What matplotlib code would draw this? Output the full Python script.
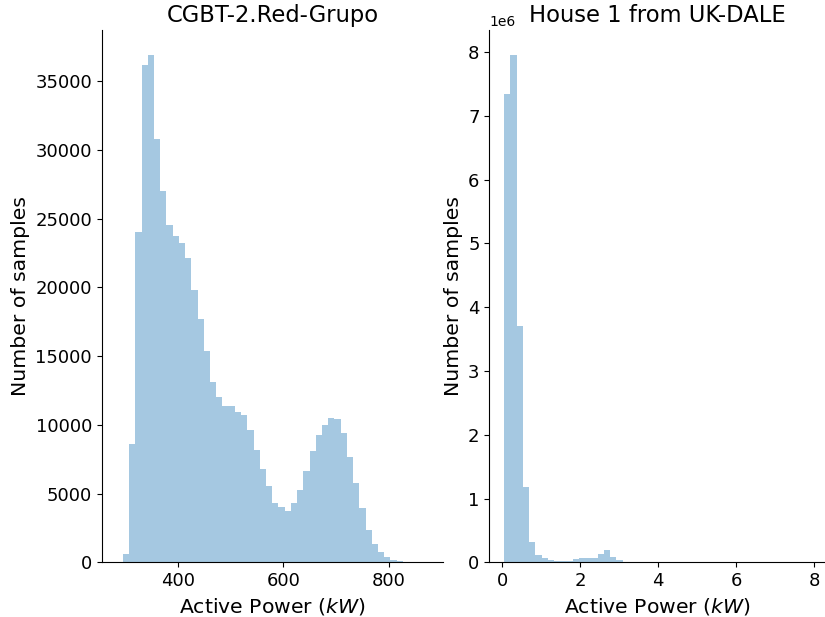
import numpy as np
import matplotlib.pyplot as plt

# CGBT-2.Red-Grupo histogram (kW), 50 bins
cgbt_start = 296.0
cgbt_width = 11.78
cgbt_counts = [600, 8600, 24000, 36150, 36880, 30830, 27040, 24570, 23770, 23250,
               22150, 19830, 17720, 15390, 13130, 12040, 11390, 11390, 10950, 10730,
               9640, 8180, 6800, 5560, 4320, 4030, 3740, 4320, 5270, 6650,
               8110, 9280, 10000, 10510, 10440, 9420, 7670, 5780, 3960, 2350,
               1330, 750, 390, 170, 60, 25, 10, 5, 3, 2]

# House 1 from UK-DALE histogram (kW), 50 bins
ukdale_start = 0.05
ukdale_width = 0.16
ukdale_counts = [7.35e6, 7.95e6, 3.71e6, 1.18e6, 0.32e6, 0.115e6, 0.068e6, 0.031e6, 0.021e6, 0.021e6,
                 0.021e6, 0.052e6, 0.068e6, 0.068e6, 0.068e6, 0.13e6, 0.194e6, 0.084e6, 0.037e6, 4000,
                 1500, 800, 500, 300, 200, 150, 100, 80, 60, 50,
                 40, 30, 25, 20, 15, 12, 10, 8, 6, 5,
                 4, 3, 3, 2, 2, 2, 1, 1, 1, 1]

titles = ["CGBT-2.Red-Grupo", "House 1 from UK-DALE"]

fig = plt.figure(figsize=(8.25, 6.17), dpi=100)
W, H = 825, 617
ax1 = fig.add_axes([101.7 / W, 1 - 562.3 / H, (443.3 - 101.7) / W, (562.3 - 30) / H])
ax2 = fig.add_axes([489.3 / W, 1 - 562.3 / H, (826 - 489.3) / W, (562.3 - 30) / H])

def draw(ax, start, width, counts, title, xlim):
    n = len(counts)
    edges = start + width * np.arange(n + 1)
    centers = (edges[:-1] + edges[1:]) / 2
    ax.hist(centers, bins=edges, weights=counts, color="C0", alpha=0.4)
    ax.set_xlim(*xlim)
    ax.set_ylim(0, max(counts) * 1.05)
    ax.set_title(title, fontsize=16.3)
    ax.set_xlabel("Active Power ($kW$)", fontsize=14.7)
    ax.set_ylabel("Number of samples", fontsize=14.7)
    ax.tick_params(labelsize=13)
    ax.spines["top"].set_visible(False)
    ax.spines["right"].set_visible(False)

draw(ax1, cgbt_start, cgbt_width, cgbt_counts, titles[0], (256, 902.6))
draw(ax2, ukdale_start, ukdale_width, ukdale_counts, titles[1], (-0.33, 8.3))
ax2.yaxis.get_offset_text().set_fontsize(10)

fig.savefig("out.png", dpi=100)
